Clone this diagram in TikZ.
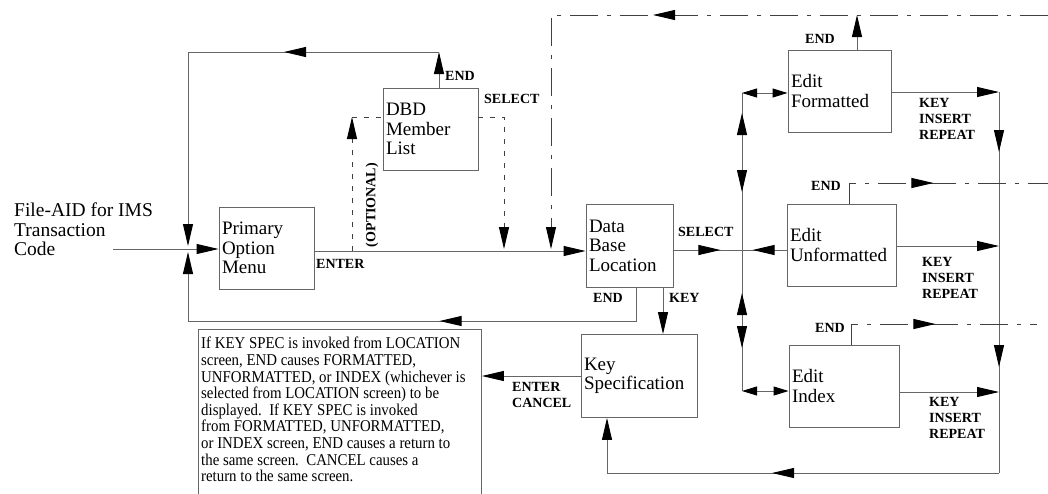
\documentclass[tikz,border=0pt]{standalone}
\usepackage{fontspec}
\setmainfont{Liberation Serif}
\newfontfamily\notefont[FakeStretch=0.9]{Liberation Serif}
\usetikzlibrary{arrows.meta,decorations.markings}

\begin{document}
\begin{tikzpicture}[x=1pt, y=-1pt,
    >={Triangle[length=22pt,width=10pt,color=black]},
    conn/.style = {draw=black!60, line width=0.9pt},
    endline/.style = {draw=black!75, line width=0.9pt, dash pattern=on 28pt off 9pt on 4pt off 9pt},
    optline/.style = {draw=black!75, line width=0.9pt, dash pattern=on 5pt off 7pt},
    main/.style = {draw=black!60, line width=0.9pt, rectangle, align=left, inner xsep=3pt, inner ysep=0pt, minimum height=82pt, font=\fontsize{19}{19.5}\selectfont},
    lbl/.style = {font=\bfseries\fontsize{14}{16}\selectfont, align=left, inner sep=0pt},
    midtip/.style = {postaction={decorate, decoration={markings, mark=at position #1 with {\arrow{>}}}}},
    backtip/.style = {postaction={decorate, decoration={markings, mark=at position #1 with {\arrowreversed{>}}}}},
    twin/.style = {{Triangle[length=15pt,width=9pt,color=black]}-{Triangle[length=15pt,width=9pt,color=black]}}]
    \fill[white] (0,0) rectangle (1048,493);
    \useasboundingbox (0,0) rectangle (1048,493);

    \node[anchor=north west, inner sep=0pt, align=left, font=\fontsize{19.5}{19.5}\selectfont] (title) at (14,203) {File-AID for IMS\\Transaction\\Code};
    \node[main, text width=89pt] (prim) at (266.5,248) {Primary\\Option\\Menu};
    \node[main, text width=89pt] (dbd) at (430.5,129) {DBD\\Member\\List};
    \node[main, text width=81pt, minimum height=83pt] (dbl) at (629.5,245.5) {Data\\Base\\Location};
    \node[main, text width=110pt, minimum height=83pt] (keysp) at (639,376) {Key\\Specification};
    \node[main, text width=97pt] (edfmt) at (839.5,91) {Edit\\Formatted};
    \node[main, text width=103pt] (edunf) at (841.5,245) {Edit\\Unformatted};
    \node[main, text width=104pt] (edidx) at (844,386) {Edit\\Index};
    \node[draw=black!60, line width=0.9pt, minimum width=283pt, minimum height=190pt, anchor=north west] (note) at (198,329) {};
    \node[anchor=north west, inner sep=0pt, align=left, font=\notefont\fontsize{16.5}{16.6}\selectfont] (notetxt) at (201,337) {If KEY SPEC is invoked from LOCATION\\screen, END causes FORMATTED,\\UNFORMATTED, or INDEX (whichever is\\selected from LOCATION screen) to be\\displayed.\ \ If KEY SPEC is invoked\\from FORMATTED, UNFORMATTED,\\or INDEX screen, END causes a return to\\the same screen.\ \ CANCEL causes a\\return to the same screen.};

    \coordinate (ein) at (113,249);
    \coordinate (ej) at (188,249);
    \coordinate (tl0) at (188,52);
    \coordinate (tr0) at (439,52);
    \coordinate (bl0) at (188,321);
    \coordinate (br0) at (636,321);
    \coordinate (mainy) at (0,251);
    \coordinate (ob) at (352,251);
    \coordinate (ot) at (352,117);
    \coordinate (st) at (504,117);
    \coordinate (sb) at (504,251);
    \coordinate (kx) at (663,0);
    \coordinate (kb) at (607,473);
    \coordinate (rb) at (999,473);
    \coordinate (rt) at (999,92);
    \coordinate (ru) at (999,246);
    \coordinate (ri) at (999,392);
    \coordinate (jt) at (742,93);
    \coordinate (jm) at (742,250);
    \coordinate (jb) at (742,391);
    \coordinate (ft) at (857,15);
    \coordinate (tr) at (1048,15);
    \coordinate (tl) at (551,15);
    \coordinate (td) at (551,251);
    \coordinate (ut) at (849,183);
    \coordinate (ur) at (1048,183);
    \coordinate (it) at (851,324);
    \coordinate (ir) at (1037,324);

    \draw[conn, ->] (ein) -- (prim.west |- ein);
    \draw[conn, ->] (dbd.north -| tr0) -- (tr0);
    \draw[conn, ->, shorten >=3pt, midtip=155pt] (tr0) -- (tl0) -- (ej);
    \draw[conn, ->, shorten >=3pt, midtip=230pt] (dbl.south -| br0) -- (br0) -- (bl0) -- (ej);
    \draw[conn, ->] (prim.east |- mainy) -- (dbl.west |- mainy);
    \draw[optline, ->] (ob) -- (ot);
    \draw[optline] (ot) -- (dbd.west |- ot);
    \draw[optline, ->, shorten >=2pt] (dbd.east |- st) -- (st) -- (sb);
    \draw[endline, ->, shorten >=2pt, midtip=395pt] (tr) -- (tl) -- (td);
    \draw[conn, ->] (edfmt.north -| ft) -- (ft);

    \draw[conn, midtip=47pt] (dbl.east |- jm) -- (jm);
    \draw[conn, midtip=34pt] (edunf.west |- jm) -- (jm);
    \draw[conn, midtip=137pt, backtip=58pt] (jm) -- (jt);
    \draw[conn, backtip=43pt, midtip=98pt] (jm) -- (jb);
    \draw[conn, twin] (jt) -- (edfmt.west |- jt);
    \draw[conn, twin] (jb) -- (edidx.west |- jb);

    \draw[conn, ->] (edfmt.east |- rt) -- (rt);
    \draw[conn, ->] (edunf.east |- ru) -- (ru);
    \draw[conn, ->] (edidx.east |- ri) -- (ri);
    \draw[conn, midtip=60pt, midtip=275pt] (rt) -- (rb);
    \draw[conn, ->, midtip=227pt] (rb) -- (kb) -- (kb |- keysp.south);
    \draw[conn, ->] (dbl.south -| kx) -- (keysp.north -| kx);
    \draw[conn, ->] (keysp.west) -- (keysp.west -| note.east);
    \draw[endline, midtip=105pt] (edunf.north -| ut) -- (ut) -- (ur);
    \draw[endline, midtip=105pt] (edidx.north -| it) -- (it) -- (ir);

    \node[lbl, anchor=west] (dbdend) at (445,76) {END};
    \node[lbl, anchor=west] (dbdsel) at (484,99) {SELECT};
    \node[lbl, rotate=90] (opt) at (372,205) {(OPTIONAL)};
    \node[lbl, anchor=west] (penter) at (316,264) {ENTER};
    \node[lbl, anchor=west] (dblsel) at (678,232) {SELECT};
    \node[lbl, anchor=west] (dblend) at (593,298) {END};
    \node[lbl, anchor=west] (dblkey) at (669,298) {KEY};
    \node[lbl, anchor=west] (kenter) at (512,395) {ENTER\\CANCEL};
    \node[lbl] (fend) at (820,39) {END};
    \node[lbl, anchor=west] (fkey) at (919,119) {KEY\\INSERT\\REPEAT};
    \node[lbl] (uend) at (826,186) {END};
    \node[lbl, anchor=west] (ukey) at (922,278) {KEY\\INSERT\\REPEAT};
    \node[lbl] (iend) at (830,328) {END};
    \node[lbl, anchor=west] (ikey) at (929,418) {KEY\\INSERT\\REPEAT};
\end{tikzpicture}
\end{document}
